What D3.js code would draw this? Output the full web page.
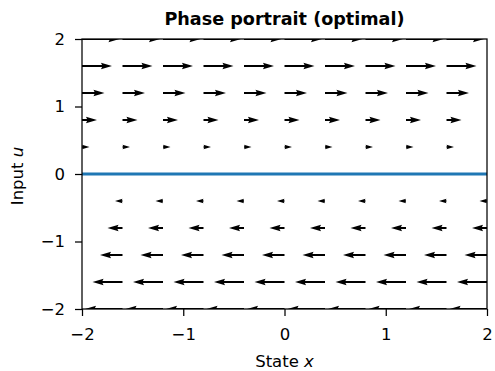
<!DOCTYPE html>
<html>
<head>
<meta charset="UTF-8">
<script src="https://cdn.jsdelivr.net/npm/d3@7"></script>
<style>
  body { margin: 0; background: #fff; }
  svg text { font-family: "DejaVu Sans", sans-serif; }
</style>
</head>
<body>
<div id="chart"></div>
<script>
  // grid of the quiver (state x, input u)
  const xGrid = [-2, -1.6, -1.2, -0.8, -0.4, 0, 0.4, 0.8, 1.2, 1.6, 2];
  const uGrid = [-2, -1.6, -1.2, -0.8, -0.4, 0, 0.4, 0.8, 1.2, 1.6, 2];
  // horizontal arrow component for each row (vertical component is 0)
  const rowDx = [-2, -1.6, -1.2, -0.8, -0.4, 0, 0.4, 0.8, 1.2, 1.6, 2];
  // optimal line
  const lineX = [-2, 2];
  const lineU = [0, 0];
  const xTicks = [-2, -1, 0, 1, 2];
  const uTicks = [-2, -1, 0, 1, 2];

  const W = 495, H = 371;
  const m = { left: 82, right: 8, top: 39, bottom: 62 };
  const iw = W - m.left - m.right, ih = H - m.top - m.bottom;

  const svg = d3.select('#chart').append('svg')
    .attr('width', W).attr('height', H);

  const x = d3.scaleLinear().domain([-2, 2]).range([0, iw]);
  const y = d3.scaleLinear().domain([-2, 2]).range([ih, 0]);

  svg.append('defs').append('clipPath').attr('id', 'clip')
    .append('rect').attr('width', iw).attr('height', ih);

  const g = svg.append('g').attr('transform', `translate(${m.left},${m.top})`);
  const plot = g.append('g').attr('clip-path', 'url(#clip)');

  // quiver autoscale like matplotlib
  const sn = Math.max(10, Math.sqrt(xGrid.length * uGrid.length));
  const meanMag = d3.mean(uGrid.flatMap((u, i) => xGrid.map(() => Math.abs(rowDx[i]))));
  const qScale = 1.8 * meanMag * sn / 4;
  const w = 0.06 * 4 / sn * (iw / 4); // shaft width px
  const hl = 5, hal = 4.5, hw = 3;

  function arrowPts(Lpx) {
    const L = Lpx / w;
    let X, Y;
    if (L < hl) {
      const s = L / hl;
      X = [0, hl - hal, 0, hl, 0, hl - hal, 0, 0].map(v => v * s);
      Y = [0.5, 0.5, hw / 2, 0, -hw / 2, -0.5, -0.5, 0.5].map(v => v * s);
    } else {
      X = [0, L - hal, L - hl, L, L - hl, L - hal, 0, 0];
      Y = [0.5, 0.5, hw / 2, 0, -hw / 2, -0.5, -0.5, 0.5];
    }
    return X.map((v, i) => [v * w, Y[i] * w]);
  }

  const arrows = [];
  uGrid.forEach((u, i) => {
    xGrid.forEach(xv => {
      arrows.push({ x: xv, u: u, dx: rowDx[i] });
    });
  });

  const line = d3.line();
  plot.selectAll('path.arrow')
    .data(arrows.filter(d => d.dx !== 0))
    .join('path')
    .attr('class', 'arrow')
    .attr('fill', '#000')
    .attr('transform', d => `translate(${x(d.x)},${y(d.u)}) scale(${d.dx < 0 ? -1 : 1},1)`)
    .attr('d', d => line(arrowPts(Math.abs(x(d.x + d.dx / qScale) - x(d.x)))) + 'Z');

  plot.append('path')
    .datum(lineX.map((v, i) => [v, lineU[i]]))
    .attr('fill', 'none')
    .attr('stroke', '#1f77b4')
    .attr('stroke-width', 3.2)
    .attr('d', d3.line().x(d => x(d[0])).y(d => y(d[1])));

  // axes
  const fmt = d3.format('d');
  const xAxis = g.append('g').attr('transform', `translate(0,${ih})`)
    .call(d3.axisBottom(x).tickValues(xTicks).tickFormat(fmt).tickSize(7).tickPadding(12));
  const yAxis = g.append('g')
    .call(d3.axisLeft(y).tickValues(uTicks).tickFormat(fmt).tickSize(7).tickPadding(10));
  [xAxis, yAxis].forEach(a => {
    a.select('.domain').remove();
    a.selectAll('line').attr('stroke', '#000').attr('stroke-width', 1.25);
    a.selectAll('text').attr('font-size', 16.5).attr('fill', '#000');
  });

  g.append('rect').attr('width', iw).attr('height', ih)
    .attr('fill', 'none').attr('stroke', '#000').attr('stroke-width', 1.25);

  svg.append('text')
    .attr('x', m.left + iw / 2).attr('y', 25)
    .attr('text-anchor', 'middle')
    .attr('font-size', 17.6).attr('font-weight', 'bold')
    .text('Phase portrait (optimal)');

  const xl = svg.append('text')
    .attr('x', m.left + iw / 2).attr('y', 367)
    .attr('text-anchor', 'middle').attr('font-size', 16.5);
  xl.append('tspan').text('State ');
  xl.append('tspan').attr('font-style', 'italic').text('x');

  const yl = svg.append('text')
    .attr('transform', `translate(23,${m.top + ih / 2 + 2}) rotate(-90)`)
    .attr('text-anchor', 'middle').attr('font-size', 16.5);
  yl.append('tspan').text('Input ');
  yl.append('tspan').attr('font-style', 'italic').text('u');
</script>
</body>
</html>
